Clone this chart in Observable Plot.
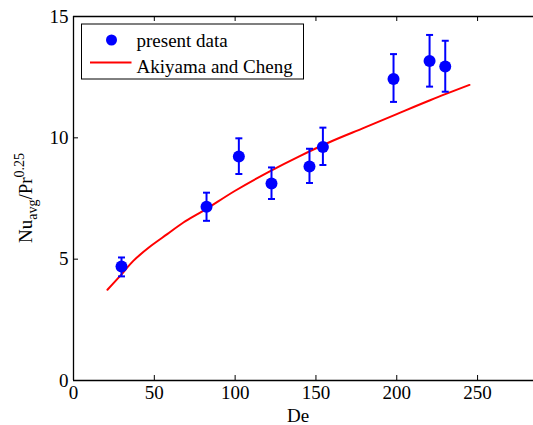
<!DOCTYPE html>
<html><head><meta charset="utf-8">
<script src="https://cdn.jsdelivr.net/npm/d3@7"></script>
<script src="https://cdn.jsdelivr.net/npm/@observablehq/plot@0.6"></script>
<style>
body{margin:0;background:#fff}
#chart{width:533px;height:425px}
#chart svg, #chart svg text, #chart svg tspan { font-family: 'Liberation Serif', 'Times New Roman', serif !important; }
</style>
</head><body><div id="chart"></div>
<script>
// present data
const deValues = [29.7, 82.3, 102.3, 122.5, 146, 154.3, 198, 220.3, 230];
const nuValues = [4.70, 7.16, 9.23, 8.12, 8.82, 9.62, 12.42, 13.17, 12.94];
const errLow   = [4.29, 6.58, 8.51, 7.48, 8.14, 8.88, 11.48, 12.11, 11.90];
const errHigh  = [5.07, 7.74, 9.98, 8.78, 9.55, 10.42, 13.45, 14.24, 14.00];
// Akiyama and Cheng curve
const akX = [21, 29, 37, 48, 58, 68, 81, 100, 122, 140, 159, 180, 200, 221, 245];
const akY = [3.74, 4.32, 4.93, 5.55, 6.03, 6.51, 7.02, 7.82, 8.64, 9.25, 9.84, 10.42, 10.98, 11.56, 12.18];
// ticks
const xTicks = [0, 50, 100, 150, 200, 250];
const yTicks = [0, 5, 10, 15];
const legendLabels = ["present data", "Akiyama and Cheng"];

const W = 533, H = 425, mL = 73, mR = 0, mT = 16, mB = 45;
const plotH = H - mT - mB, plotW = W - mL - mR;
const BLUE = "#0000ff", RED = "#ff0000";
const font = "'Liberation Serif', 'Times New Roman', serif";

const points = deValues.map((x, i) => ({x, y: nuValues[i], lo: errLow[i], hi: errHigh[i]}));
const curve = akX.map((x, i) => ({x, y: akY[i]}));
const cap = {draw(ctx, size) { const r = Math.sqrt(size / Math.PI); ctx.moveTo(-r, 0); ctx.lineTo(r, 0); }};

const svg = Plot.plot({
  width: W, height: H, marginLeft: mL, marginRight: mR, marginTop: mT, marginBottom: mB,
  style: {fontFamily: font, fontSize: "19px", color: "#000", background: "#fff", overflow: "visible"},
  x: {domain: [0, 284.6]},
  y: {domain: [0, 15]},
  marks: [
    Plot.axisX(xTicks, {tickSize: 0, tickPadding: 5, label: null, fill: "#000", fontSize: 19}),
    Plot.axisY(yTicks, {tickSize: 0, tickPadding: 5, label: null, fill: "#000", fontSize: 19}),
    Plot.tickX(xTicks.slice(1), {x: d => d, insetTop: plotH - 5, stroke: "#000", strokeWidth: 1}),
    Plot.tickX(xTicks.slice(1), {x: d => d, insetBottom: plotH - 5, stroke: "#000", strokeWidth: 1}),
    Plot.tickY(yTicks.slice(1, -1), {y: d => d, insetRight: plotW - 5, stroke: "#000", strokeWidth: 1}),
    Plot.ruleX([0], {stroke: "#000", strokeWidth: 1.3}),
    Plot.ruleY([0, 15], {stroke: "#000", strokeWidth: 1.3}),
    Plot.line(curve, {x: "x", y: "y", stroke: RED, strokeWidth: 2, curve: "catmull-rom"}),
    Plot.ruleX(points, {x: "x", y1: "lo", y2: "hi", stroke: BLUE, strokeWidth: 2}),
    Plot.dot(points, {x: "x", y: "lo", symbol: cap, r: 3.5, stroke: BLUE, strokeWidth: 2, fill: "none"}),
    Plot.dot(points, {x: "x", y: "hi", symbol: cap, r: 3.5, stroke: BLUE, strokeWidth: 2, fill: "none"}),
    Plot.dot(points, {x: "x", y: "y", r: 6, fill: BLUE, stroke: "none"})
  ]
});
document.getElementById("chart").appendChild(svg);

const s = d3.select(svg);
// x label
s.append("text").attr("x", 298).attr("y", 422).attr("text-anchor", "middle")
  .attr("font-size", 19).attr("fill", "#000").text("De");
// y label with sub/superscripts
const yl = s.append("text").attr("transform", "translate(32,198) rotate(-90)")
  .attr("text-anchor", "middle").attr("font-size", 19).attr("fill", "#000");
yl.append("tspan").text("Nu");
yl.append("tspan").attr("font-size", 14).attr("dy", 5).text("avg");
yl.append("tspan").attr("dy", -5).text("/Pr");
yl.append("tspan").attr("font-size", 14).attr("dy", -8).text("0.25");
// legend
const lg = s.append("g");
lg.append("rect").attr("x", 81.5).attr("y", 24).attr("width", 222).attr("height", 55)
  .attr("fill", "#fff").attr("stroke", "#000").attr("stroke-width", 1);
lg.append("circle").attr("cx", 111.5).attr("cy", 40).attr("r", 5.5).attr("fill", BLUE);
lg.append("line").attr("x1", 90).attr("x2", 131.5).attr("y1", 62.5).attr("y2", 62.5)
  .attr("stroke", RED).attr("stroke-width", 2);
lg.append("text").attr("x", 136.5).attr("y", 46.5).attr("text-anchor", "start").attr("font-size", 19)
  .attr("fill", "#000").text(legendLabels[0]);
lg.append("text").attr("x", 136.5).attr("y", 73).attr("text-anchor", "start").attr("font-size", 19)
  .attr("fill", "#000").text(legendLabels[1]);
</script>
</body></html>
